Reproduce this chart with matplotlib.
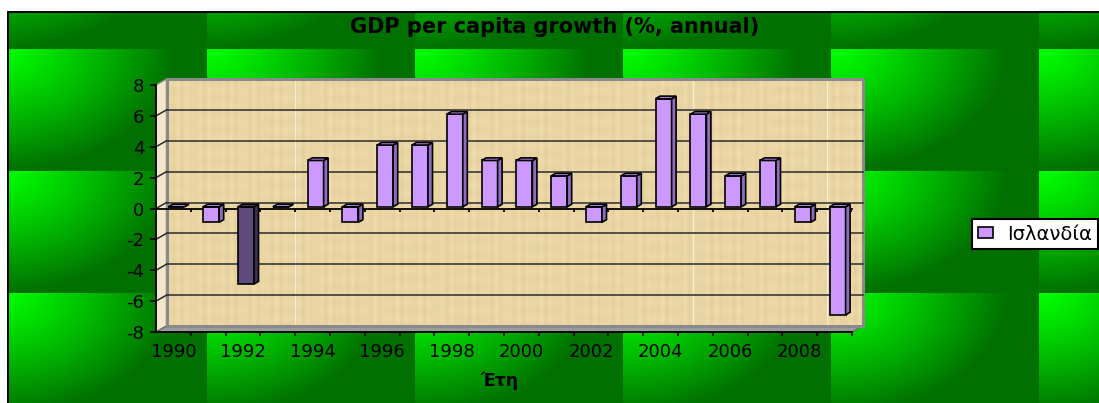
import numpy as np
import matplotlib
matplotlib.use("Agg")
import matplotlib.pyplot as plt
from matplotlib.patches import Rectangle, Polygon, Patch

# data
years = list(range(1990, 2010))
growth = [0, -1, -5, 0, 3, -1, 4, 4, 6, 3, 3, 2, -1, 2, 7, 6, 2, 3, -1, -7]
series_name = "Ισλανδία"
year_ticks = list(range(1990, 2009, 2))
year_labels = [str(y) for y in year_ticks]
title = "GDP per capita growth (%, annual)"
xlabel = "Έτη"

plt.rcParams["font.family"] = ["DejaVu Sans"]
plt.rcParams["axes.unicode_minus"] = False

W, H = 1099, 403
fig = plt.figure(figsize=(W / 100, H / 100), dpi=100)

# ---- background: tiled green gradient + paper back wall ----
yy, xx = np.mgrid[0:H, 0:W]
u = ((xx + 1) % 208) / 208.0
v = ((yy + 73) % 122) / 122.0
t = np.clip(np.sqrt((u / 0.85) ** 2 + (v / 1.0) ** 2), 0, 1) ** 1.15
img = np.zeros((H, W, 3))
img[..., 1] = (255 - 143 * t) / 255
img[:11, :] = 1
img[:, :7] = 1
img[11:13, 7:] = 0
img[11:, 7:9] = 0

# paper texture of the back wall
wy0, wy1, wx0, wx1 = 80, 326, 167, 862
px = xx[wy0:wy1, wx0:wx1].astype(float)
py = yy[wy0:wy1, wx0:wx1].astype(float)
shade = 0.018 * np.sin(px * 0.7) * np.sin(px * 0.13) + 0.010 * np.sin(py * 0.4) * np.sin(px * 0.05)
paper = np.stack([0.918 + shade, 0.839 + shade, 0.643 + shade], axis=-1)
for sx in (295, 693, 827):
    paper[:, sx - wx0] = [0.96, 0.93, 0.86]
img[wy0:wy1, wx0:wx1] = paper

bgax = fig.add_axes([0, 0, 1, 1], zorder=0)
bgax.imshow(np.clip(img, 0, 1), aspect="auto", interpolation="nearest")
bgax.axis("off")

# ---- main axes ----
ax = fig.add_axes([156 / W, 71 / H, 696 / W, 247 / H], zorder=1)
ax.set_facecolor("none")
x0, x1 = 1989.5, 2009.5
ax.set_xlim(x0, x1)
ax.set_ylim(-8, 8)

PXX = 696 / 20.0
PXY = 247 / 16.0
dx, dy = 10.5 / PXX, 6 / PXY

# walls and floor
ax.add_patch(Polygon([(x0, -8), (x0 + dx, -8 + dy), (x0 + dx, 8 + dy), (x0, 8)],
                     fc="#f2e7c9", ec="#8a8a8a", lw=1, clip_on=False, zorder=1))
ax.add_patch(Polygon([(x0, -8), (x1, -8), (x1 + dx, -8 + dy), (x0 + dx, -8 + dy)],
                     fc="#9c9c9c", ec="#6e6e6e", lw=1, clip_on=False, zorder=1))
ax.add_patch(Rectangle((x0 + dx, -8 + dy), x1 - x0, 16, fill=False, ec="#8a8a8a",
                       lw=2.2, clip_on=False, zorder=1.5))
for gv in range(-6, 8, 2):
    ax.plot([x0 + dx, x1 + dx], [gv + dy, gv + dy], color="#2b2b2b", lw=1.1, clip_on=False, zorder=2)
    ax.plot([x0, x0 + dx], [gv, gv + dy], color="#2b2b2b", lw=1.1, clip_on=False, zorder=2)

# front zero line with category ticks
ax.plot([x0, x1], [0, 0], color="black", lw=1.3, zorder=2.5, clip_on=False)
ax.vlines(np.arange(1990.5, 2010, 1), -3.5 / PXY, 0, color="black", lw=1.3, zorder=2.5)

# 3d-looking columns
w = 16 / PXX
d, dd = 4.5 / PXX, 2.6 / PXY
oy = 1.7 / PXY
for yr, val in zip(years, growth):
    if yr == 1992:
        fc, sc, tc = "#604a7b", "#3f3152", "#51406a"
    else:
        fc, sc, tc = "#cc99ff", "#8f6cbf", "#b488e6"
    cx = yr + 3 / PXX
    xl, xr = cx - w / 2, cx + w / 2
    lo, hi = min(0, val) + oy, max(0, val) + oy
    kw = dict(ec="black", lw=1.2, clip_on=False, zorder=4)
    ax.add_patch(Rectangle((xl, lo), w, hi - lo, fc=fc, **kw))
    ax.add_patch(Polygon([(xr, lo), (xr + d, lo + dd), (xr + d, hi + dd), (xr, hi)], fc=sc, **kw))
    ax.add_patch(Polygon([(xl, hi), (xl + d, hi + dd), (xr + d, hi + dd), (xr, hi)], fc=tc, **kw))

# axes styling
for s in ("top", "right"):
    ax.spines[s].set_visible(False)
for s in ("left", "bottom"):
    ax.spines[s].set_color("black")
    ax.spines[s].set_linewidth(1.3)
    ax.spines[s].set_zorder(3)
ax.set_yticks(range(-8, 9, 2))
ax.tick_params(axis="y", length=4.3, width=1.2, pad=4, labelsize=13, colors="black")
ax.set_xticks(year_ticks)
ax.set_xticklabels(year_labels)
ax.set_xticks(np.arange(1990.5, 2010, 1), minor=True)
ax.tick_params(axis="x", which="major", length=0, pad=8, labelsize=13)
ax.tick_params(axis="x", which="minor", length=3, width=1.2, direction="out")
ax.set_xlabel(xlabel, fontsize=12.5, fontweight="bold")
ax.xaxis.set_label_coords(0.494, -0.16)

fig.text(555 / W, 1 - 27 / H, title, ha="center", va="center", fontsize=15, fontweight="bold")

leg = fig.legend(handles=[Patch(fc="#cc99ff", ec="black", lw=1.2, label=series_name)],
                 loc="center left", bbox_to_anchor=(972 / W, 1 - 234 / H), fontsize=14,
                 frameon=True, fancybox=False, edgecolor="black", framealpha=1,
                 borderaxespad=0, handlelength=0.8, handleheight=0.5,
                 handletextpad=0.7, borderpad=0.3)
leg.get_frame().set_linewidth(1.5)

fig.savefig("out.png", dpi=100)
